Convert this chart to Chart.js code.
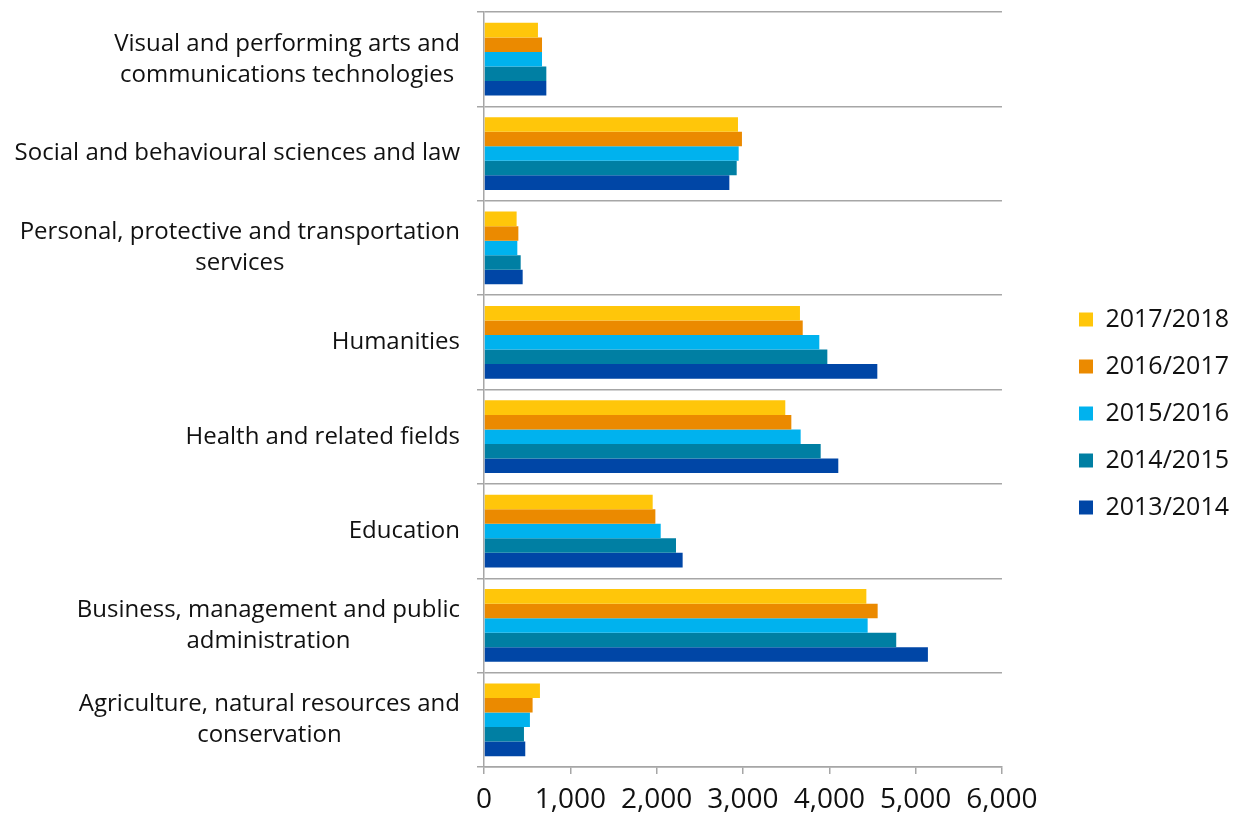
<!DOCTYPE html>
<html>
<head>
<meta charset="utf-8">
<title>Enrolments by field of study</title>
<script src="https://cdn.jsdelivr.net/npm/chart.js@4.4.1/dist/chart.umd.min.js"></script>
<style>
  body { margin: 0; background: #fff; }
  canvas { display: block; }
</style>
</head>
<body>
<canvas id="grafico" width="1243" height="815"></canvas>
<script>
// fields of study, top to bottom (each entry = lines of the label)
const categorias = [
    ['Visual and performing arts and', 'communications technologies'],
    ['Social and behavioural sciences and law'],
    ['Personal, protective and transportation', 'services'],
    ['Humanities'],
    ['Health and related fields'],
    ['Education'],
    ['Business, management and public', 'administration'],
    ['Agriculture, natural resources and', 'conservation']
];

const anios = ['2017/2018', '2016/2017', '2015/2016', '2014/2015', '2013/2014'];

const v2017_2018 = [625, 2942, 378, 3660, 3490, 1954, 4429, 648];
const v2016_2017 = [672, 2988, 398, 3692, 3560, 1985, 4560, 563];
const v2015_2016 = [672, 2950, 386, 3884, 3668, 2047, 4444, 532];
const v2014_2015 = [722, 2927, 425, 3977, 3900, 2224, 4775, 463];
const v2013_2014 = [722, 2842, 448, 4556, 4104, 2301, 5142, 478];

const xTicks = [0, 1000, 2000, 3000, 4000, 5000, 6000];

const colores = ['#FFC60A', '#EB8A00', '#00B2EE', '#007FA3', '#0046A6'];
const fuente = "'Open Sans', sans-serif";
const gris = '#a6a6a6';
const texto = '#111';

const series = [v2017_2018, v2016_2017, v2015_2016, v2014_2015, v2013_2014];

// y labels: each block right aligned, lines centered inside the block
const etiquetasY = {
    id: 'etiquetasY',
    afterDraw(chart) {
        const { ctx, scales: { y } } = chart;
        ctx.save();
        ctx.font = `24px ${fuente}`;
        ctx.fillStyle = texto;
        ctx.textAlign = 'center';
        ctx.textBaseline = 'middle';
        const derecha = y.right - 24;
        categorias.forEach((lineas, i) => {
            const yc = y.getPixelForTick(i);
            const ancho = Math.max(...lineas.map(l => ctx.measureText(l).width));
            const cx = derecha - ancho / 2;
            lineas.forEach((linea, j) => {
                ctx.fillText(linea, cx, yc + (j - (lineas.length - 1) / 2) * 31);
            });
        });
        ctx.restore();
    }
};

// push the legend a bit further right than the default slot
const moverLeyenda = {
    id: 'moverLeyenda',
    afterLayout(chart) {
        chart.legend.left += 55;
        chart.legend.right += 55;
    }
};

const ctx = document.getElementById('grafico').getContext('2d');
const myChart = new Chart(ctx, {
    type: 'bar',
    data: {
        labels: categorias,
        datasets: anios.map((anio, i) => ({
            label: anio,
            data: series[i],
            backgroundColor: colores[i],
            borderWidth: 0,
            categoryPercentage: 0.77,
            barPercentage: 1.0
        }))
    },
    options: {
        indexAxis: 'y',
        responsive: false,
        animation: false,
        devicePixelRatio: 1,
        layout: { padding: { top: 12, right: 59, bottom: 0, left: 0 } },
        scales: {
            x: {
                min: 0,
                max: 6000,
                afterBuildTicks: (scale) => {
                    scale.ticks = xTicks.map(v => ({ value: v }));
                },
                afterFit: (scale) => { scale.height = 48; },
                ticks: {
                    color: texto,
                    font: { family: fuente, size: 28 },
                    padding: 9,
                    maxRotation: 0,
                    callback: (v) => v.toLocaleString('en-US')
                },
                grid: {
                    drawOnChartArea: false,
                    drawTicks: true,
                    tickLength: 7,
                    color: gris,
                    lineWidth: 1.5
                },
                border: { color: gris, width: 1.5 }
            },
            y: {
                afterFit: (scale) => { scale.width = 484; },
                ticks: { display: false },
                grid: {
                    color: gris,
                    lineWidth: 1.5,
                    tickLength: 7,
                    offset: true
                },
                border: { color: gris, width: 1.5 }
            }
        },
        plugins: {
            legend: {
                position: 'right',
                labels: {
                    color: texto,
                    font: { family: fuente, size: 25 },
                    boxWidth: 14,
                    boxHeight: 14,
                    padding: 22
                }
            },
            tooltip: { enabled: false }
        }
    },
    plugins: [etiquetasY, moverLeyenda]
});
</script>
</body>
</html>
